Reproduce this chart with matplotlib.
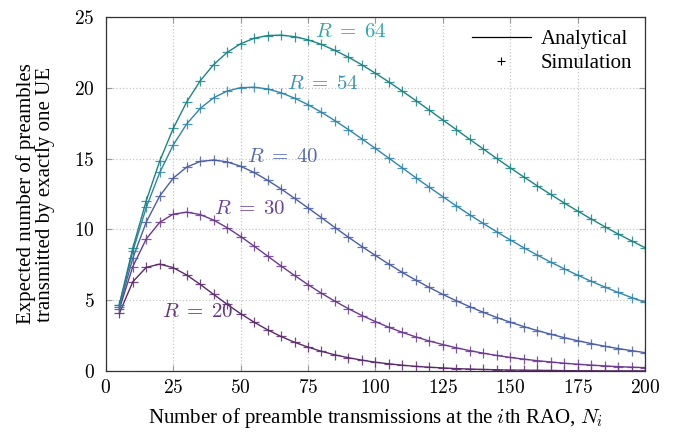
import matplotlib
matplotlib.use('Agg')
import matplotlib.pyplot as plt
from matplotlib.lines import Line2D

plt.rcParams['font.family'] = ['Liberation Serif', 'DejaVu Serif']
plt.rcParams['mathtext.fontset'] = 'cm'

# number of preamble transmissions N_i
n_tx = list(range(5, 205, 5))

# expected number of singleton preambles for each R
r20 = [4.07, 6.30, 7.32, 7.55, 7.30, 6.78, 6.12, 5.41, 4.71, 4.05,
       3.45, 2.91, 2.44, 2.03, 1.69, 1.39, 1.14, 0.94, 0.77, 0.62,
       0.51, 0.41, 0.33, 0.27, 0.22, 0.17, 0.14, 0.11, 0.09, 0.07,
       0.06, 0.05, 0.04, 0.03, 0.02, 0.02, 0.01, 0.01, 0.01, 0.01]
r30 = [4.37, 7.37, 9.33, 10.50, 11.08, 11.22, 11.05, 10.66, 10.12, 9.50,
       8.82, 8.12, 7.42, 6.75, 6.10, 5.49, 4.93, 4.40, 3.92, 3.49,
       3.09, 2.73, 2.41, 2.12, 1.87, 1.64, 1.44, 1.26, 1.10, 0.96,
       0.84, 0.73, 0.64, 0.55, 0.48, 0.42, 0.36, 0.31, 0.27, 0.24]
r40 = [4.52, 7.96, 10.52, 12.36, 13.62, 14.40, 14.80, 14.90, 14.77, 14.46,
       14.02, 13.47, 12.86, 12.20, 11.52, 10.83, 10.13, 9.45, 8.79, 8.16,
       7.55, 6.96, 6.42, 5.90, 5.41, 4.96, 4.54, 4.15, 3.78, 3.45,
       3.14, 2.86, 2.60, 2.36, 2.14, 1.94, 1.75, 1.59, 1.44, 1.30]
r54 = [4.64, 8.45, 11.55, 14.02, 15.96, 17.45, 18.54, 19.30, 19.77, 20.01,
       20.04, 19.92, 19.65, 19.27, 18.81, 18.27, 17.68, 17.05, 16.39, 15.72,
       15.03, 14.34, 13.65, 12.98, 12.31, 11.66, 11.03, 10.42, 9.83, 9.26,
       8.71, 8.19, 7.69, 7.22, 6.77, 6.34, 5.94, 5.55, 5.19, 4.85]
r64 = [4.69, 8.68, 12.03, 14.83, 17.13, 19.00, 20.49, 21.64, 22.50, 23.11,
       23.50, 23.69, 23.72, 23.61, 23.39, 23.06, 22.64, 22.16, 21.62, 21.03,
       20.41, 19.76, 19.10, 18.42, 17.73, 17.05, 16.36, 15.68, 15.01, 14.35,
       13.71, 13.08, 12.47, 11.87, 11.30, 10.74, 10.20, 9.68, 9.19, 8.71]

series = [r20, r30, r40, r54, r64]
labels = [r'$R\;=\;20$', r'$R\;=\;30$', r'$R\;=\;40$', r'$R\;=\;54$', r'$R\;=\;64$']
line_colors = ['#5a2a6c', '#6a3a92', '#4a5ea6', '#2f86ae', '#1b8585']
text_colors = ['#64357a', '#6c429a', '#5468ae', '#3a93bb', '#2fa8a8']
label_pos = [(34, 4.1), (53.5, 11.4), (65.5, 15.1), (80.5, 20.2), (91, 23.9)]

fig = plt.figure(figsize=(6.74, 4.36), dpi=100)
ax = fig.add_axes([0.157, 0.149, 0.800, 0.812])

for y, c in zip(series, line_colors):
    ax.plot(n_tx, y, '-', color=c, lw=1.0)
    ax.plot(n_tx, y, '+', color=c, ms=7.5, mew=0.9, alpha=0.85)

for lab, (x, y), c in zip(labels, label_pos, text_colors):
    ax.text(x, y, lab, color=c, fontsize=15, ha='center', va='center')

ax.set_xlim(0, 200)
ax.set_ylim(0, 25)
ax.set_xticks(range(0, 201, 25))
ax.set_yticks(range(0, 26, 5))
ax.set_xticklabels(['$%d$' % v for v in range(0, 201, 25)])
ax.set_yticklabels(['$%d$' % v for v in range(0, 26, 5)])
ax.tick_params(direction='in', top=True, right=True, labelsize=14,
               color='#999999', length=4)
ax.tick_params(axis='y', pad=8)
ax.tick_params(axis='x', pad=6)
ax.grid(True, ls=':', color='#c8c8c8', lw=0.9)
for s in ax.spines.values():
    s.set_color('#333333')
    s.set_linewidth(0.9)

ax.set_xlabel('Number of preamble transmissions at the $i$th RAO, $N_i$',
              fontsize=15, labelpad=6)
ax.set_ylabel('Expected number of preambles\ntransmitted by exactly one UE',
              fontsize=15, labelpad=14, linespacing=1.0)

handles = [Line2D([], [], color='black', lw=0.9),
           Line2D([], [], color='black', ls='', marker='+', ms=6, mew=0.8)]
ax.legend(handles, ['Analytical', 'Simulation'], loc='upper right',
          frameon=False, fontsize=15, handlelength=2.8, borderaxespad=0.2,
          labelspacing=0.2, handletextpad=0.5)

fig.savefig('out.png', dpi=100)
